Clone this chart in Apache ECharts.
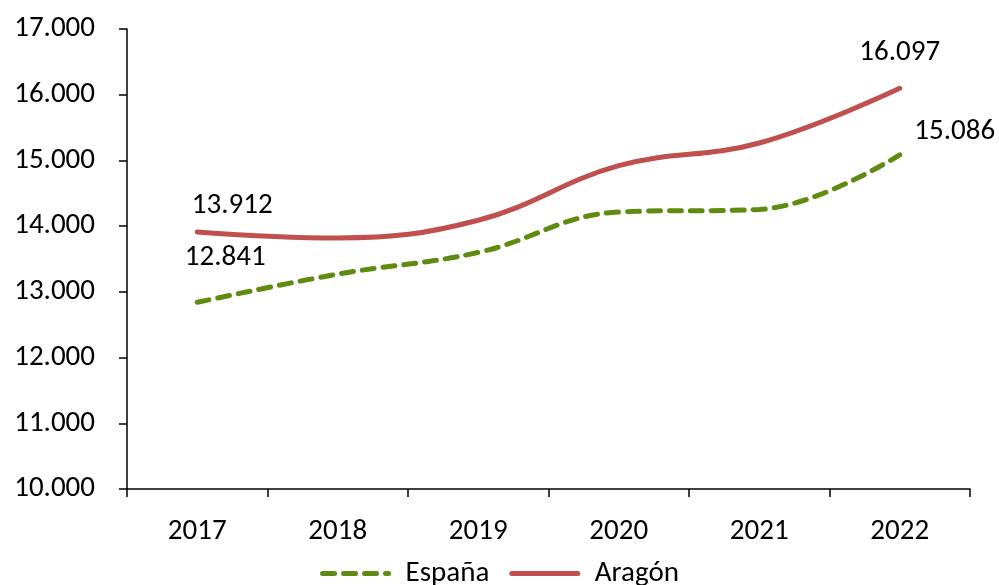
<!DOCTYPE html>
<html>
<head>
<meta charset="utf-8">
<script src="https://cdn.jsdelivr.net/npm/echarts@6/dist/echarts.min.js"></script>
<style>
html, body { margin: 0; padding: 0; background: #fff; }
#chart { width: 999px; height: 585px; }
</style>
</head>
<body>
<div id="chart"></div>
<script>
// datos
var years = ['2017', '2018', '2019', '2020', '2021', '2022'];
var espana = [12841, 13270, 13600, 14215, 14255, 15086];
var aragon = [13912, 13820, 14090, 14920, 15265, 16097];

var fuente = 'Carlito, "Liberation Sans", sans-serif';
var tam = 29;

function miles(v) {
	return String(v).replace(/\B(?=(\d{3})+(?!\d))/g, '.');
}

// solo se etiqueta el primer y el último punto
function conEtiquetas(arr, offIni, offFin) {
	return arr.map(function(v, i) {
		var item = { value: v };
		if (i === 0 || i === arr.length - 1) {
			item.label = {
				show: true,
				position: 'inside',
				offset: i === 0 ? offIni : offFin,
				formatter: function(p) { return miles(p.value); },
				color: '#000',
				fontSize: tam,
				fontFamily: fuente,
				textBorderWidth: 0
			};
		}
		return item;
	});
}

var myChart = echarts.init(document.getElementById('chart'));
var option = {
	backgroundColor: '#fff',
	animation: false,
	grid: {
		left: 127,
		right: 29,
		top: 29,
		bottom: 96
	},
	legend: {
		bottom: -8,
		itemWidth: 66,
		itemHeight: 8,
		itemGap: 20,
		lineStyle: { width: 5 },
		textStyle: {
			color: '#000',
			fontSize: tam,
			fontFamily: fuente,
			padding: [0, 0, 0, 12]
		},
		data: ['España', 'Aragón']
	},
	xAxis: {
		type: 'category',
		data: years,
		boundaryGap: true,
		axisLine: { lineStyle: { color: '#000', width: 1.5 } },
		axisTick: { show: true, length: 8, lineStyle: { color: '#000', width: 1.5 } },
		axisLabel: { color: '#000', fontSize: tam, fontFamily: fuente, margin: 28 },
		splitLine: { show: false }
	},
	yAxis: {
		type: 'value',
		min: 10000,
		max: 17000,
		interval: 1000,
		axisLine: { show: true, lineStyle: { color: '#000', width: 1.5 } },
		axisTick: { show: true, length: 8, lineStyle: { color: '#000', width: 1.5 } },
		axisLabel: {
			color: '#000', fontSize: tam, fontFamily: fuente, margin: 32,
			formatter: function(v) { return miles(v); }
		},
		splitLine: { show: false }
	},
	series: [{
			name: 'España',
			type: 'line',
			smooth: 0.4,
			symbol: 'circle',
			symbolSize: 1,
			itemStyle: { color: 'rgba(0,0,0,0)' },
			lineStyle: { color: '#5f8b10', width: 5, type: [12, 9], cap: 'round' },
			data: conEtiquetas(espana, [28, -45], [55, -23])
		},
		{
			name: 'Aragón',
			type: 'line',
			smooth: 0.4,
			symbol: 'circle',
			symbolSize: 1,
			itemStyle: { color: 'rgba(0,0,0,0)' },
			lineStyle: { color: '#c0504d', width: 5, cap: 'round' },
			data: conEtiquetas(aragon, [35, -26], [0, -36])
		}
	]
};
myChart.setOption(option);
</script>
</body>
</html>
